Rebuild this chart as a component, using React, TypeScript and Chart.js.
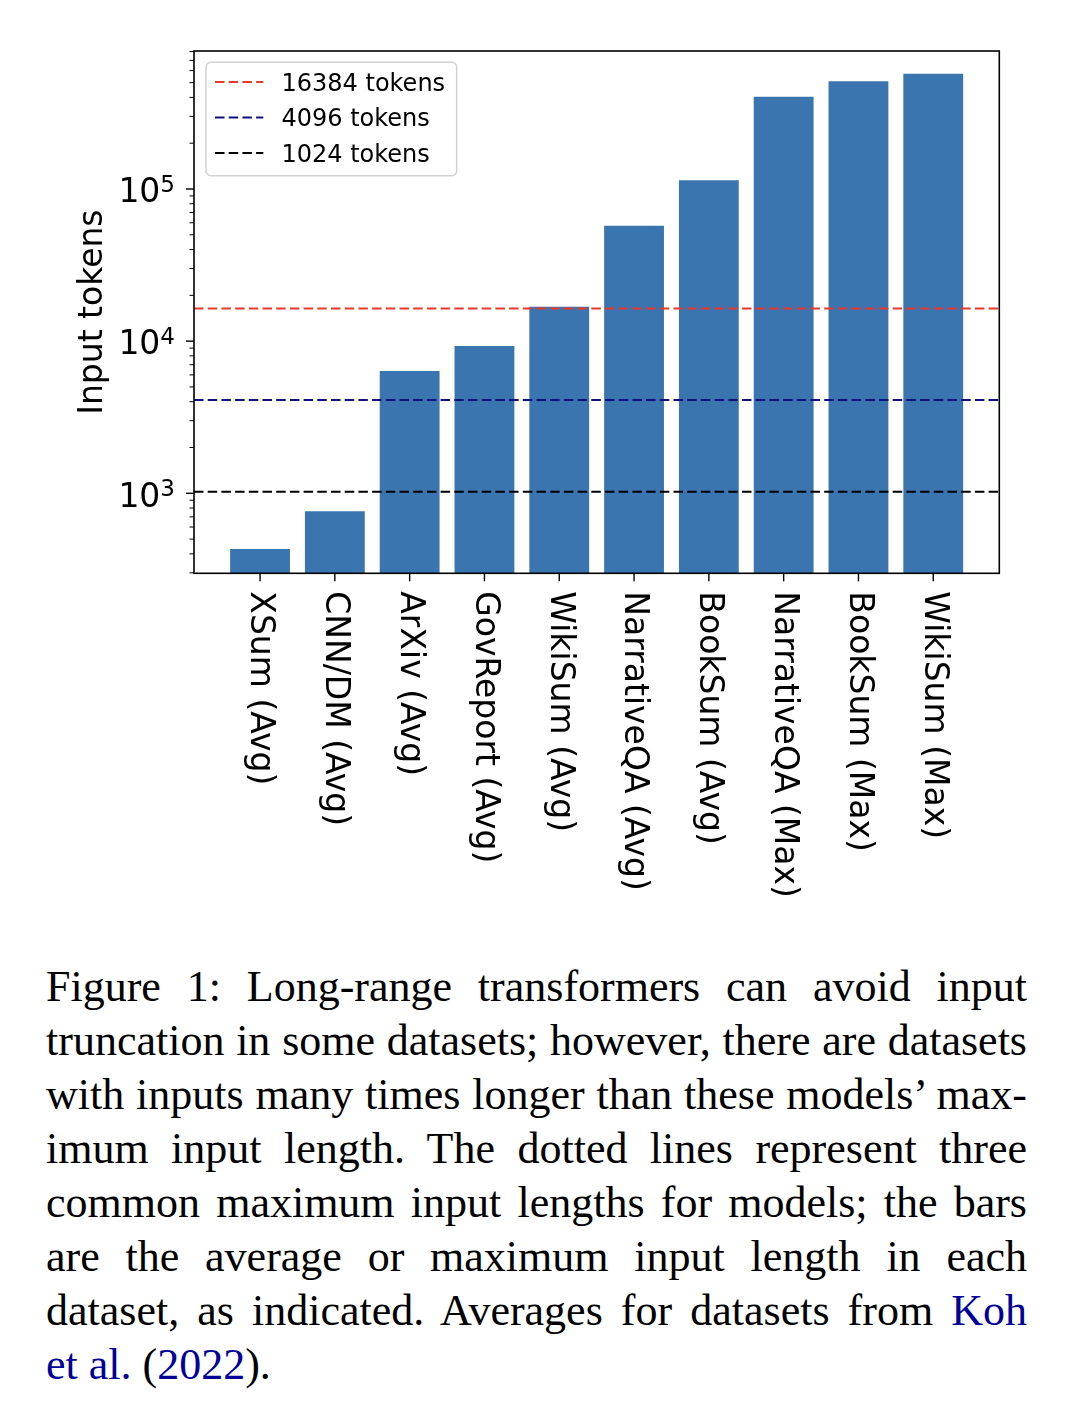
import React, { useEffect, useRef } from 'react';
import { Chart, registerables } from 'chart.js';

Chart.register(...registerables);

// ---- data ----
const categories = [
  'XSum (Avg)',
  'CNN/DM (Avg)',
  'ArXiv (Avg)',
  'GovReport (Avg)',
  'WikiSum (Avg)',
  'NarrativeQA (Avg)',
  'BookSum (Avg)',
  'NarrativeQA (Max)',
  'BookSum (Max)',
  'WikiSum (Max)',
];
const tokenValues = [430, 762, 6360, 9290, 16800, 57300, 114000, 404000, 510000, 573000];

const thresholdValues = [16384, 4096, 1024];
const thresholdLabels = ['16384 tokens', '4096 tokens', '1024 tokens'];
const thresholdColors = ['#e8392f', '#10107f', '#000000'];

const yMajorExponents = [3, 4, 5];
const yAxisTitle = 'Input tokens';
const yMin = 298;
const yMax = 807000;

const captionLines = [
  'Figure 1:  Long-range transformers can avoid input',
  'truncation in some datasets; however, there are datasets',
  'with inputs many times longer than these models\u2019 max-',
  'imum input length.  The dotted lines represent three',
  'common maximum input lengths for models; the bars',
  'are the average or maximum input length in each',
];

const BAR_COLOR = '#3b75af';
const FONT = '"DejaVu Sans", sans-serif';

const overlayPlugin = {
  id: 'overlay',
  afterDatasetsDraw(chart: any) {
    const ctx = chart.ctx as CanvasRenderingContext2D;
    const { left, right, top, bottom } = chart.chartArea;
    const ys = chart.scales.y;
    const xs = chart.scales.x;
    ctx.save();

    // threshold dashed lines
    thresholdValues.forEach((v, i) => {
      const y = ys.getPixelForValue(v);
      ctx.beginPath();
      ctx.setLineDash([9.5, 4.2]);
      ctx.strokeStyle = thresholdColors[i];
      ctx.lineWidth = 2;
      ctx.moveTo(left, y);
      ctx.lineTo(right, y);
      ctx.stroke();
    });
    ctx.setLineDash([]);

    // frame
    ctx.strokeStyle = '#000';
    ctx.lineWidth = 1.6;
    ctx.strokeRect(left, top, right - left, bottom - top);

    // y ticks (major + minor)
    for (let d = 2; d <= 6; d++) {
      for (let m = 1; m <= 9; m++) {
        const v = m * Math.pow(10, d);
        if (v < ys.min || v > ys.max) continue;
        const y = ys.getPixelForValue(v);
        const len = m === 1 ? 8 : 4.5;
        ctx.lineWidth = m === 1 ? 1.4 : 1.0;
        ctx.beginPath();
        ctx.moveTo(left - len, y);
        ctx.lineTo(left, y);
        ctx.stroke();
      }
    }

    // y tick labels 10^n
    ctx.fillStyle = '#000';
    yMajorExponents.forEach((e) => {
      const y = ys.getPixelForValue(Math.pow(10, e));
      const xr = left - 19;
      ctx.font = `23px ${FONT}`;
      ctx.textAlign = 'right';
      ctx.textBaseline = 'alphabetic';
      const expStr = String(e);
      const ew = ctx.measureText(expStr).width;
      ctx.fillText(expStr, xr, y + 2.7);
      ctx.font = `33px ${FONT}`;
      ctx.fillText('10', xr - ew, y + 13.3);
    });

    // y axis title
    ctx.save();
    ctx.translate(93.7, (top + bottom) / 2);
    ctx.rotate(-Math.PI / 2);
    ctx.font = `33px ${FONT}`;
    ctx.textAlign = 'center';
    ctx.textBaseline = 'alphabetic';
    ctx.fillText(yAxisTitle, 0, 0);
    ctx.restore();

    // x ticks and labels
    categories.forEach((label, i) => {
      const x = xs.getPixelForValue(i);
      ctx.lineWidth = 1.4;
      ctx.beginPath();
      ctx.moveTo(x, bottom);
      ctx.lineTo(x, bottom + 8);
      ctx.stroke();
      ctx.save();
      ctx.translate(x, bottom + 18);
      ctx.rotate(Math.PI / 2);
      ctx.font = `33px ${FONT}`;
      ctx.textAlign = 'left';
      ctx.textBaseline = 'middle';
      ctx.fillText(label, 0, 0);
      ctx.restore();
    });

    // legend
    const bx = left + 12;
    const by = top + 11.3;
    const bw = 250.7;
    const bh = 113.4;
    ctx.beginPath();
    (ctx as any).roundRect(bx, by, bw, bh, 5);
    ctx.fillStyle = 'rgba(255,255,255,0.8)';
    ctx.fill();
    ctx.strokeStyle = '#d2d2d2';
    ctx.lineWidth = 1.5;
    ctx.stroke();
    const rowYs = [31, 66.5, 102];
    thresholdLabels.forEach((lab, i) => {
      const ry = top + rowYs[i];
      ctx.beginPath();
      ctx.setLineDash([9.5, 4.2]);
      ctx.strokeStyle = thresholdColors[i];
      ctx.lineWidth = 2;
      ctx.moveTo(left + 21, ry);
      ctx.lineTo(left + 69.3, ry);
      ctx.stroke();
      ctx.setLineDash([]);
      ctx.fillStyle = '#000';
      ctx.font = `24px ${FONT}`;
      ctx.textAlign = 'left';
      ctx.textBaseline = 'alphabetic';
      ctx.fillText(lab, left + 87.5, ry + 8.7);
    });

    ctx.restore();
  },
};

function BarChart() {
  const ref = useRef<HTMLCanvasElement | null>(null);
  useEffect(() => {
    if (!ref.current) return;
    const chart = new Chart(ref.current, {
      type: 'bar',
      data: {
        datasets: [
          {
            label: yAxisTitle,
            data: tokenValues.map((v, i) => ({ x: i, y: v })),
            backgroundColor: BAR_COLOR,
            borderWidth: 0,
            barPercentage: 0.8,
            categoryPercentage: 1.0,
          },
        ],
      },
      options: {
        responsive: false,
        animation: false,
        layout: { padding: { top: 43, right: 72.7, left: 0, bottom: 0 } },
        plugins: { legend: { display: false }, tooltip: { enabled: false } },
        scales: {
          x: {
            type: 'linear',
            offset: false,
            min: -0.883,
            max: categories.length - 1 + 0.883,
            ticks: { display: false },
            grid: { display: false, offset: false },
            border: { display: false },
            afterBuildTicks: (s: any) => {
              s.ticks = categories.map((_, i) => ({ value: i }));
            },
            afterFit: (s: any) => {
              s.height = 374.7;
            },
          },
          y: {
            type: 'logarithmic',
            min: yMin,
            max: yMax,
            ticks: { display: false },
            grid: { display: false },
            border: { display: false },
            afterFit: (s: any) => {
              s.width = 186;
            },
          },
        },
      } as any,
      plugins: [overlayPlugin],
    });
    return () => chart.destroy();
  }, []);
  return <canvas ref={ref} width={1064} height={940} style={{ display: 'block' }} />;
}

export default function App() {
  const lineStyle: React.CSSProperties = {
    textAlign: 'justify',
    textAlignLast: 'justify' as any,
    whiteSpace: 'normal',
  };
  return (
    <div>
      <BarChart />
      <div
        style={{
          marginTop: 11.7,
          marginLeft: 38,
          width: 981,
          fontFamily: '"Liberation Serif", "Times New Roman", serif',
          fontSize: 44,
          lineHeight: '54px',
          color: '#000',
        }}
      >
        {captionLines.map((l, i) => (
          <div key={i} style={lineStyle}>
            {l}
          </div>
        ))}
        <div style={lineStyle}>
          dataset, as indicated.  Averages for datasets from <span style={{ color: '#000099' }}>Koh</span>
        </div>
        <div>
          <span style={{ color: '#000099' }}>et al.</span> (<span style={{ color: '#000099' }}>2022</span>).
        </div>
      </div>
    </div>
  );
}
